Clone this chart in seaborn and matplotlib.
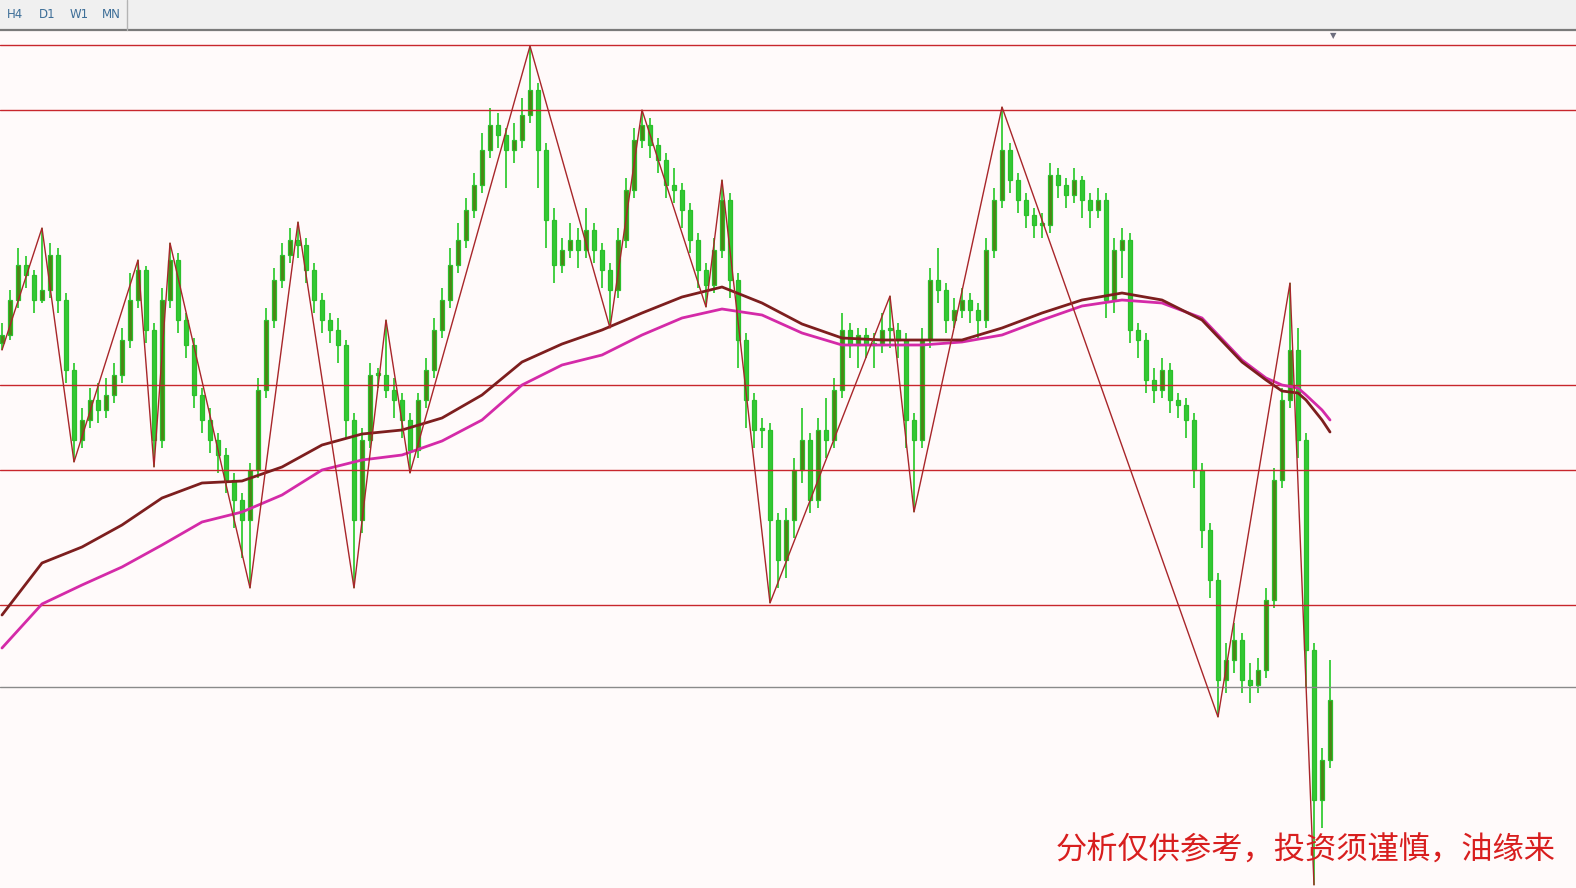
import numpy as np
import pandas as pd
import matplotlib.pyplot as plt
from matplotlib.patches import Rectangle
from matplotlib.lines import Line2D
import seaborn as sns

# candle data (arbitrary price units), one candle per bar index
first_open = 545
closes = [553, 588, 623, 613, 588, 598, 633, 588, 518, 448,
          468, 488, 478, 493, 513, 548, 588, 618, 558, 448,
          588, 628, 568, 543, 493, 468, 448, 433, 408, 388,
          368, 418, 498, 568, 608, 633, 648, 643, 618, 588,
          568, 558, 543, 468, 368, 448, 513, 513, 498, 488,
          468, 438, 488, 518, 558, 588, 623, 648, 678, 703,
          738, 763, 753, 738, 748, 773, 798, 738, 668, 623,
          638, 648, 638, 658, 638, 618, 598, 648, 698, 748,
          763, 743, 728, 703, 698, 678, 648, 618, 603, 638,
          688, 608, 548, 488, 458, 458, 368, 328, 368, 418,
          448, 388, 458, 448, 498, 558, 543, 553, 543, 543,
          558, 558, 548, 468, 448, 548, 608, 598, 568, 578,
          588, 578, 568, 638, 688, 738, 708, 688, 673, 663,
          663, 713, 703, 693, 708, 688, 678, 688, 588, 638,
          648, 558, 548, 508, 498, 518, 488, 483, 468, 418,
          358, 308, 208, 228, 248, 208, 203, 218, 288, 408,
          488, 538, 448, 238, 88, 128, 188]
highs = [565, 598, 640, 632, 618, 660, 645, 640, 595, 525,
         480, 500, 505, 510, 525, 560, 615, 628, 622, 565,
         600, 645, 635, 575, 550, 500, 480, 455, 440, 415,
         395, 425, 510, 580, 620, 645, 660, 666, 650, 625,
         595, 575, 570, 548, 475, 460, 525, 520, 568, 510,
         495, 475, 495, 530, 570, 600, 640, 665, 690, 715,
         755, 780, 775, 760, 765, 790, 842, 805, 745, 680,
         650, 665, 660, 680, 665, 645, 625, 660, 710, 760,
         778, 770, 750, 735, 720, 705, 685, 655, 625, 650,
         708, 695, 615, 555, 495, 470, 465, 375, 380, 430,
         480, 455, 470, 490, 510, 575, 565, 560, 560, 555,
         575, 592, 565, 555, 475, 560, 620, 640, 605, 590,
         600, 595, 585, 650, 700, 781, 745, 715, 695, 680,
         675, 725, 720, 710, 720, 712, 695, 700, 695, 650,
         660, 655, 565, 555, 520, 530, 525, 495, 490, 475,
         425, 365, 315, 245, 265, 255, 225, 230, 300, 420,
         500, 605, 560, 455, 245, 140, 228]
lows = [538, 548, 580, 600, 575, 585, 590, 575, 505, 426,
        440, 460, 465, 470, 485, 505, 540, 580, 545, 421,
        440, 580, 555, 530, 480, 455, 435, 415, 395, 360,
        330, 300, 410, 490, 560, 600, 625, 630, 605, 575,
        555, 545, 525, 450, 300, 355, 440, 500, 490, 470,
        450, 415, 430, 480, 510, 550, 580, 615, 640, 670,
        695, 730, 740, 700, 725, 740, 765, 700, 640, 605,
        615, 630, 620, 630, 625, 600, 560, 590, 640, 690,
        740, 730, 715, 690, 685, 660, 635, 600, 581, 595,
        630, 590, 520, 460, 440, 440, 285, 300, 310, 350,
        405, 375, 380, 430, 440, 490, 530, 520, 530, 520,
        535, 540, 530, 440, 376, 440, 540, 585, 555, 560,
        570, 565, 550, 560, 630, 680, 695, 675, 660, 650,
        650, 655, 690, 680, 685, 670, 660, 670, 570, 575,
        610, 545, 530, 495, 485, 490, 475, 470, 450, 400,
        340, 290, 171, 195, 215, 195, 185, 195, 210, 280,
        400, 480, 430, 200, 3, 60, 120]

# moving averages, sampled at bar indices
ma_idx = [0, 5, 10, 15, 20, 25, 30, 35, 40, 45, 50, 55, 60, 65, 70, 75,
          80, 85, 90, 95, 100, 105, 110, 115, 120, 125, 130, 135, 140, 145,
          150, 155, 158, 160, 162, 163, 165, 166]
ma_slow = [273, 325, 341, 363, 390, 405, 407, 421, 443, 454, 458, 470, 493,
           526, 544, 558, 575, 591, 601, 585, 564, 550, 548, 548, 548, 560,
           575, 588, 595, 588, 568, 526, 508, 497, 495, 488, 468, 456]
ma_fast = [240, 284, 303, 321, 343, 366, 376, 393, 418, 428, 433, 447, 468,
           503, 523, 533, 553, 570, 579, 573, 555, 543, 543, 543, 546, 553,
           568, 582, 588, 585, 570, 528, 510, 503, 500, 493, 478, 468]

# zigzag turning points (bar index, L = low / H = high)
pivot_idx = [0, 5, 9, 17, 19, 21, 31, 37, 44, 48, 51, 66, 76, 80, 88, 90,
             96, 111, 114, 125, 152, 161, 164]
pivot_kind = ['L', 'H'] * 11 + ['L']

# support / resistance levels
red_levels = [843, 778, 503, 418, 283]
gray_levels = [201]

timeframes = ['H4', 'D1', 'W1', 'MN']
caption = '分析仅供参考，投资须谨慎，油缘来'

sns.set_style('white')
plt.rcParams['font.family'] = ['Noto Sans CJK SC', 'DejaVu Sans']

W, H = 1576, 888
fig = plt.figure(figsize=(W / 100, H / 100), dpi=100, facecolor='#fffafa')
top = 1 - 31 / H
ax = fig.add_axes([0, 0, 1, top])
ax.set_facecolor('#fffafa')

df = pd.DataFrame({'close': closes, 'high': highs, 'low': lows})
df['open'] = [first_open] + closes[:-1]
df['idx'] = np.arange(len(df))

# levels
for lv in red_levels:
    ax.axhline(lv, color='#c8262c', lw=1.0, zorder=3)
for lv in gray_levels:
    ax.axhline(lv, color='#8a8a8a', lw=1.0, zorder=3)

# candles
ax.vlines(df['idx'], df['low'], df['high'], color='#35cc35', lw=1.3, zorder=2)
body_lo = np.minimum(df['open'], df['close'])
body_h = np.maximum(np.abs(df['close'] - df['open']), 2)
faces = np.where(df['close'] > df['open'], '#4f8216', '#33c833')
ax.bar(df['idx'], body_h, bottom=body_lo, width=0.6, color=faces,
       edgecolor='#2bc02b', linewidth=0.9, zorder=2)

# moving averages
sns.lineplot(x=ma_idx, y=ma_fast, ax=ax, color='#d42aa8', linewidth=2.0, zorder=4)
sns.lineplot(x=ma_idx, y=ma_slow, ax=ax, color='#7d1e1e', linewidth=2.0, zorder=4)

# zigzag
zz_val = [df['low'][i] if k == 'L' else df['high'][i] for i, k in zip(pivot_idx, pivot_kind)]
sns.lineplot(x=pivot_idx, y=zz_val, ax=ax, sort=False, color='#a8262a',
             linewidth=1.0, zorder=5)

ax.set_xlim(-0.25, W / 8 - 0.25)
ax.set_ylim(0, H - 31)
ax.set_xticks([])
ax.set_yticks([])
ax.set_xlabel('')
ax.set_ylabel('')
for s in ax.spines.values():
    s.set_visible(False)

# toolbar strip
fig.patches.append(Rectangle((0, top), 1, 1 - top, transform=fig.transFigure,
                             facecolor='#f0f0f0', edgecolor='none', zorder=0))
fig.lines.append(Line2D([0, 1], [top + 1 / H, top + 1 / H], transform=fig.transFigure,
                        color='#7a7a7a', lw=1.6))
fig.lines.append(Line2D([127 / W, 127 / W], [top + 1 / H, 1], transform=fig.transFigure,
                        color='#b4b4b4', lw=1.0))
for k, tf in enumerate(timeframes):
    fig.text((15 + 32 * k) / W, 1 - 14 / H, tf, ha='center', va='center',
             fontsize=8.5, color='#3d6e98', family='DejaVu Sans')
fig.text(1333 / W, 1 - 36 / H, '▼', ha='center', va='center', fontsize=6,
         color='#6e6e7e', family='DejaVu Sans')

fig.text(1056 / W, 1 - 851 / H, caption, ha='left', va='center', fontsize=22.5,
         color='#d81e1e', family=['Noto Sans CJK SC', 'DejaVu Sans'])

fig.savefig('out.png', dpi=100, facecolor=fig.get_facecolor())
